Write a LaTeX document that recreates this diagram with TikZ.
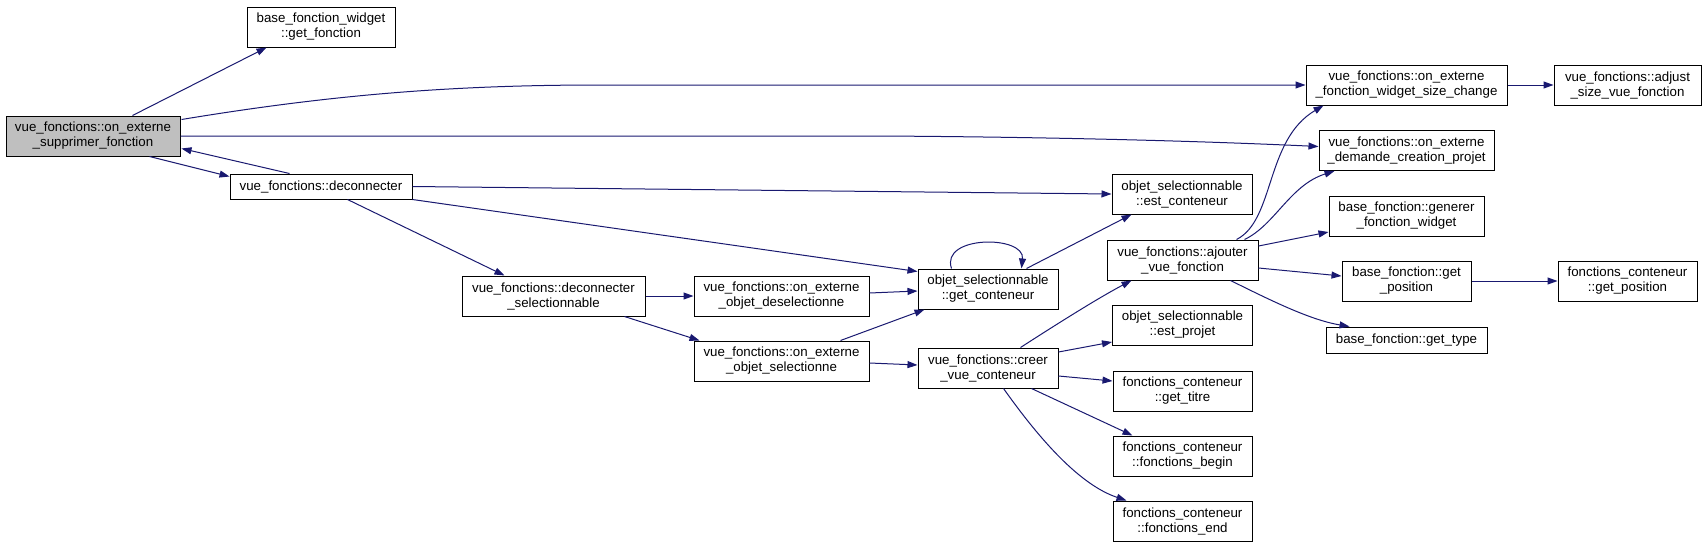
\documentclass[tikz,border=0pt]{standalone}
\usepackage{fontspec}
\setmainfont{Liberation Sans}
\usepackage{tikz}
\usetikzlibrary{arrows.meta,calc}
\definecolor{edgeblue}{HTML}{191970}
\definecolor{rootgray}{HTML}{BFBFBF}

\begin{document}
\begin{tikzpicture}[x=1pt,y=-1pt,>={Triangle[length=10pt,width=7pt]},
  fn/.style={draw,line width=1pt,align=center,inner sep=0pt,minimum height=40pt,
    font=\fontsize{13.3}{15}\selectfont},
  call/.style={->,edgeblue,line width=1pt}]
 \useasboundingbox (0,0) rectangle (1707,547);
 \node[fn,fill=rootgray,minimum width=174pt] (supprimer) at (93,136) {vue\_fonctions::on\_externe\\\_supprimer\_fonction};
 \node[fn,minimum width=148pt] (getfonction) at (321,27) {base\_fonction\_widget\\::get\_fonction};
 \node[fn,minimum width=182pt,minimum height=25pt] (deconnecter) at (321,186.5) {vue\_fonctions::deconnecter};
 \node[fn,minimum width=183pt] (deconsel) at (553.5,296) {vue\_fonctions::deconnecter\\\_selectionnable};
 \node[fn,minimum width=175pt] (deselectionne) at (781.5,296) {vue\_fonctions::on\_externe\\\_objet\_deselectionne};
 \node[fn,minimum width=175pt] (selectionne) at (781.5,361) {vue\_fonctions::on\_externe\\\_objet\_selectionne};
 \node[fn,minimum width=140pt] (getconteneur) at (988,289) {objet\_selectionnable\\::get\_conteneur};
 \node[fn,minimum width=140pt] (creer) at (988,368) {vue\_fonctions::creer\\\_vue\_conteneur};
 \node[fn,minimum width=140pt] (estconteneur) at (1182,194) {objet\_selectionnable\\::est\_conteneur};
 \node[fn,minimum width=151pt] (ajouter) at (1182.5,260) {vue\_fonctions::ajouter\\\_vue\_fonction};
 \node[fn,minimum width=140pt] (estprojet) at (1182.5,325) {objet\_selectionnable\\::est\_projet};
 \node[fn,minimum width=139pt] (gettitre) at (1182.5,391) {fonctions\_conteneur\\::get\_titre};
 \node[fn,minimum width=139pt] (fbegin) at (1182.5,456) {fonctions\_conteneur\\::fonctions\_begin};
 \node[fn,minimum width=139pt] (fend) at (1182.5,521) {fonctions\_conteneur\\::fonctions\_end};
 \node[fn,minimum width=201pt] (sizechange) at (1406.5,85) {vue\_fonctions::on\_externe\\\_fonction\_widget\_size\_change};
 \node[fn,minimum width=175pt] (demande) at (1406.5,150.5) {vue\_fonctions::on\_externe\\\_demande\_creation\_projet};
 \node[fn,minimum width=155pt] (generer) at (1406.5,216) {base\_fonction::generer\\\_fonction\_widget};
 \node[fn,minimum width=129pt] (getposition) at (1406.5,281) {base\_fonction::get\\\_position};
 \node[fn,minimum width=161pt,minimum height=26pt] (gettype) at (1406.5,340) {base\_fonction::get\_type};
 \node[fn,minimum width=147pt] (adjust) at (1627.5,85) {vue\_fonctions::adjust\\\_size\_vue\_fonction};
 \node[fn,minimum width=139pt] (fcgetposition) at (1627.5,281) {fonctions\_conteneur\\::get\_position};
 \draw[call] ($(supprimer.north west)+(127,0)$) -- ($(getfonction.south west)+(20,0)$);
 \draw[call] ($(supprimer.north east)+(1,4)$) .. controls (330,95) and (450,85) .. (600,85) -- (sizechange.west);
 \draw[call] (supprimer.east) -- (880,136) .. controls (1050,137) and (1200,141) .. ($(demande.west)+(0,-4)$);
 \draw[call] ($(supprimer.south west)+(144,0)$) -- ($(deconnecter.north west)+(0,3)$);
 \draw[call] ($(deconnecter.north west)+(60,0)$) -- ($(supprimer.south east)+(1,-8)$);
 \draw[call] (deconnecter.east) -- (estconteneur.west);
 \draw[call] (deconnecter.south east) -- ($(getconteneur.north west)+(0,3)$);
 \draw[call] ($(deconnecter.south west)+(118,0)$) -- ($(deconsel.north west)+(43,0)$);
 \draw[call] (deconsel.east) -- (deselectionne.west);
 \draw[call] ($(deconsel.south east)+(-21,0)$) -- ($(selectionne.north west)+(6,0)$);
 \draw[call] ($(deselectionne.east)+(0,-3)$) -- ($(getconteneur.west)+(0,2)$);
 \draw[call] ($(selectionne.north east)+(-29,0)$) -- ($(getconteneur.south west)+(7,0)$);
 \draw[call] ($(selectionne.east)+(0,2)$) -- ($(creer.west)+(0,-3)$);
 \draw[call] ($(getconteneur.north west)+(34,0)$) .. controls (940,235) and (1025,235) .. ($(getconteneur.north west)+(104,0)$);
 \draw[call] ($(getconteneur.north east)+(-32,0)$) -- ($(estconteneur.south west)+(20,0)$);
 \draw[call] ($(creer.north east)+(-38,0)$) .. controls (1060,322) and (1100,297) .. ($(ajouter.south west)+(25,0)$);
 \draw[call] ($(creer.east)+(0,-16)$) -- ($(estprojet.west)+(0,17)$);
 \draw[call] ($(creer.east)+(0,8)$) -- ($(gettitre.west)+(0,-10)$);
 \draw[call] ($(creer.south east)+(-27,0)$) -- ($(fbegin.north west)+(20,0)$);
 \draw[call] ($(creer.south west)+(86,0)$) .. controls (1040,440) and (1080,485) .. ($(fend.north west)+(14,0)$);
 \draw[call] ($(ajouter.north west)+(130,0)$) .. controls (1275,220) and (1265,140) .. ($(sizechange.south west)+(18,0)$);
 \draw[call] ($(ajouter.north west)+(138,0)$) .. controls (1275,225) and (1290,185) .. ($(demande.south west)+(16,0)$);
 \draw[call] ($(ajouter.east)+(0,-14)$) -- ($(generer.west)+(0,16)$);
 \draw[call] ($(ajouter.east)+(0,8)$) -- ($(getposition.west)+(0,-5)$);
 \draw[call] ($(ajouter.south east)+(-28,0)$) .. controls (1270,300) and (1310,320) .. ($(gettype.north west)+(24,0)$);
 \draw[call] (sizechange.east) -- (adjust.west);
 \draw[call] (getposition.east) -- (fcgetposition.west);
\end{tikzpicture}
\end{document}
